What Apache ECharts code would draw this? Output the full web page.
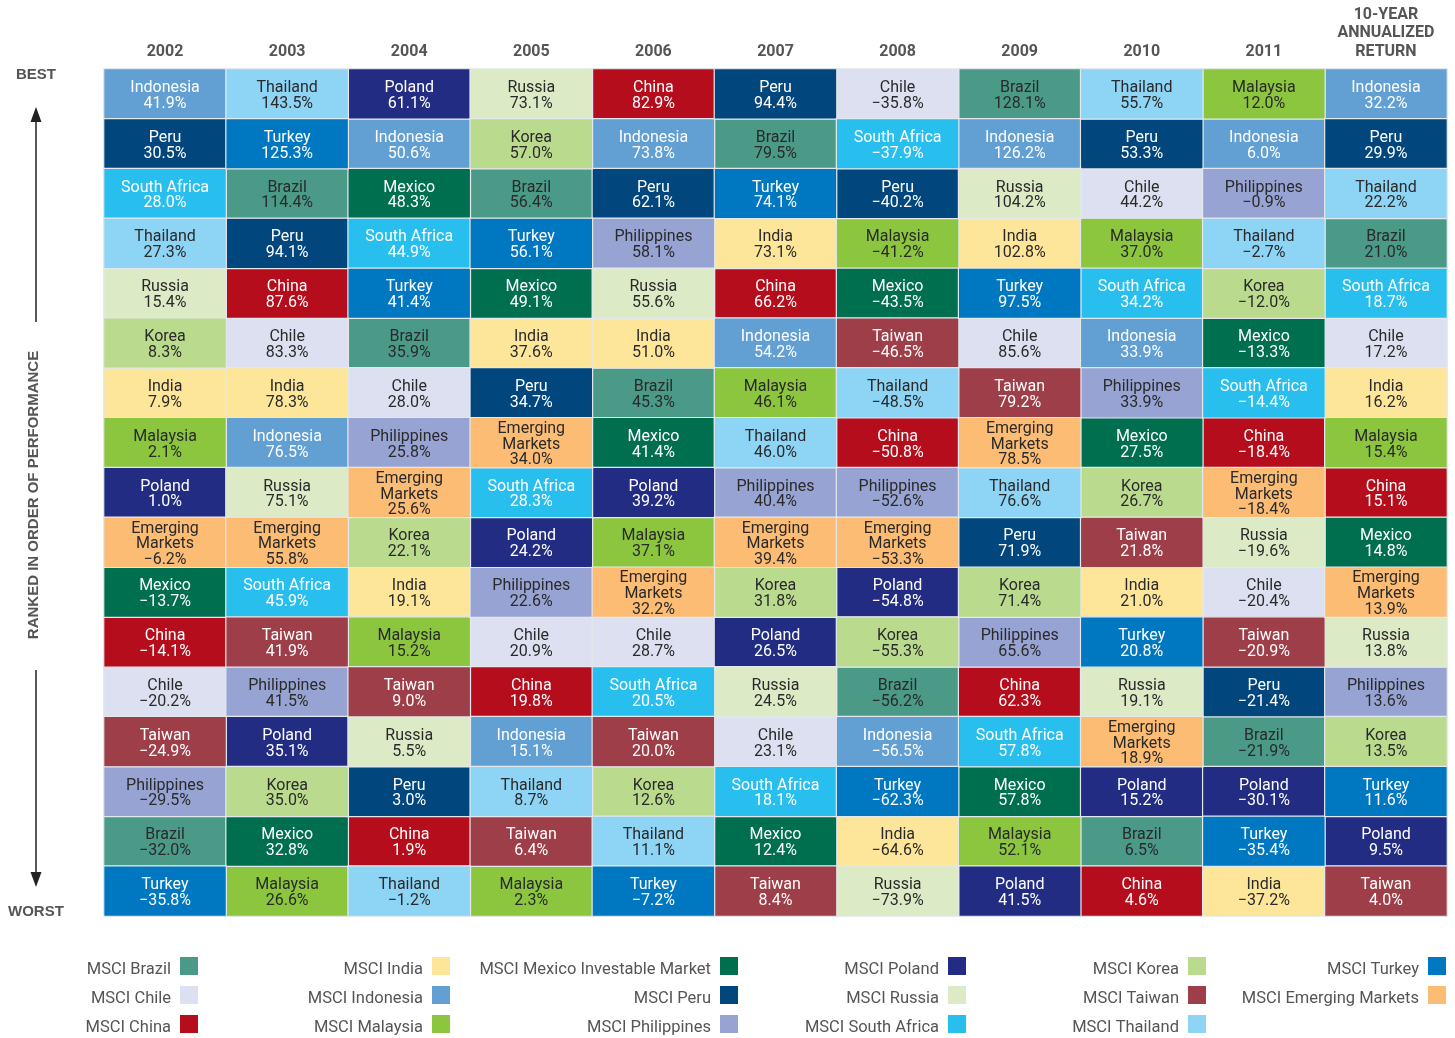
<!DOCTYPE html>
<html>
<head>
<meta charset="utf-8">
<script src="https://cdn.jsdelivr.net/npm/echarts@6/dist/echarts.min.js"></script>
<style>html,body{margin:0;padding:0;background:#fff}#c{width:1455px;height:1038px}</style>
</head>
<body>
<div id="c"></div>
<script>
// ---- DATA ----
const columns = ['2002','2003','2004','2005','2006','2007','2008','2009','2010','2011','10-YEAR\nANNUALIZED\nRETURN'];
const countries = ['Brazil','Chile','China','India','Indonesia','Malaysia','Mexico','Peru','Philippines','Poland','Russia','South Africa','Korea','Taiwan','Thailand','Turkey','Emerging Markets'];
const legendNames = ['MSCI Brazil','MSCI Chile','MSCI China','MSCI India','MSCI Indonesia','MSCI Malaysia','MSCI Mexico Investable Market','MSCI Peru','MSCI Philippines','MSCI Poland','MSCI Russia','MSCI South Africa','MSCI Korea','MSCI Taiwan','MSCI Thailand','MSCI Turkey','MSCI Emerging Markets'];

const n2002 = ['Indonesia','Peru','South Africa','Thailand','Russia','Korea','India','Malaysia','Poland','Emerging Markets','Mexico','China','Chile','Taiwan','Philippines','Brazil','Turkey'];
const v2002 = [41.9,30.5,28.0,27.3,15.4,8.3,7.9,2.1,1.0,-6.2,-13.7,-14.1,-20.2,-24.9,-29.5,-32.0,-35.8];
const n2003 = ['Thailand','Turkey','Brazil','Peru','China','Chile','India','Indonesia','Russia','Emerging Markets','South Africa','Taiwan','Philippines','Poland','Korea','Mexico','Malaysia'];
const v2003 = [143.5,125.3,114.4,94.1,87.6,83.3,78.3,76.5,75.1,55.8,45.9,41.9,41.5,35.1,35.0,32.8,26.6];
const n2004 = ['Poland','Indonesia','Mexico','South Africa','Turkey','Brazil','Chile','Philippines','Emerging Markets','Korea','India','Malaysia','Taiwan','Russia','Peru','China','Thailand'];
const v2004 = [61.1,50.6,48.3,44.9,41.4,35.9,28.0,25.8,25.6,22.1,19.1,15.2,9.0,5.5,3.0,1.9,-1.2];
const n2005 = ['Russia','Korea','Brazil','Turkey','Mexico','India','Peru','Emerging Markets','South Africa','Poland','Philippines','Chile','China','Indonesia','Thailand','Taiwan','Malaysia'];
const v2005 = [73.1,57.0,56.4,56.1,49.1,37.6,34.7,34.0,28.3,24.2,22.6,20.9,19.8,15.1,8.7,6.4,2.3];
const n2006 = ['China','Indonesia','Peru','Philippines','Russia','India','Brazil','Mexico','Poland','Malaysia','Emerging Markets','Chile','South Africa','Taiwan','Korea','Thailand','Turkey'];
const v2006 = [82.9,73.8,62.1,58.1,55.6,51.0,45.3,41.4,39.2,37.1,32.2,28.7,20.5,20.0,12.6,11.1,-7.2];
const n2007 = ['Peru','Brazil','Turkey','India','China','Indonesia','Malaysia','Thailand','Philippines','Emerging Markets','Korea','Poland','Russia','Chile','South Africa','Mexico','Taiwan'];
const v2007 = [94.4,79.5,74.1,73.1,66.2,54.2,46.1,46.0,40.4,39.4,31.8,26.5,24.5,23.1,18.1,12.4,8.4];
const n2008 = ['Chile','South Africa','Peru','Malaysia','Mexico','Taiwan','Thailand','China','Philippines','Emerging Markets','Poland','Korea','Brazil','Indonesia','Turkey','India','Russia'];
const v2008 = [-35.8,-37.9,-40.2,-41.2,-43.5,-46.5,-48.5,-50.8,-52.6,-53.3,-54.8,-55.3,-56.2,-56.5,-62.3,-64.6,-73.9];
const n2009 = ['Brazil','Indonesia','Russia','India','Turkey','Chile','Taiwan','Emerging Markets','Thailand','Peru','Korea','Philippines','China','South Africa','Mexico','Malaysia','Poland'];
const v2009 = [128.1,126.2,104.2,102.8,97.5,85.6,79.2,78.5,76.6,71.9,71.4,65.6,62.3,57.8,57.8,52.1,41.5];
const n2010 = ['Thailand','Peru','Chile','Malaysia','South Africa','Indonesia','Philippines','Mexico','Korea','Taiwan','India','Turkey','Russia','Emerging Markets','Poland','Brazil','China'];
const v2010 = [55.7,53.3,44.2,37.0,34.2,33.9,33.9,27.5,26.7,21.8,21.0,20.8,19.1,18.9,15.2,6.5,4.6];
const n2011 = ['Malaysia','Indonesia','Philippines','Thailand','Korea','Mexico','South Africa','China','Emerging Markets','Russia','Chile','Taiwan','Peru','Brazil','Poland','Turkey','India'];
const v2011 = [12.0,6.0,-0.9,-2.7,-12.0,-13.3,-14.4,-18.4,-18.4,-19.6,-20.4,-20.9,-21.4,-21.9,-30.1,-35.4,-37.2];
const n10yr = ['Indonesia','Peru','Thailand','Brazil','South Africa','Chile','India','Malaysia','China','Mexico','Emerging Markets','Russia','Philippines','Korea','Turkey','Poland','Taiwan'];
const v10yr = [32.2,29.9,22.2,21.0,18.7,17.2,16.2,15.4,15.1,14.8,13.9,13.8,13.6,13.5,11.6,9.5,4.0];

const columnNames = [n2002,n2003,n2004,n2005,n2006,n2007,n2008,n2009,n2010,n2011,n10yr];
const columnValues = [v2002,v2003,v2004,v2005,v2006,v2007,v2008,v2009,v2010,v2011,v10yr];
const ranks = ['1','2','3','4','5','6','7','8','9','10','11','12','13','14','15','16','17'];

// ---- STYLE ----
const palette = {
  'Brazil':'#4a9a87','Chile':'#dde0f0','China':'#b50d1c','India':'#fde69a','Indonesia':'#629fd3',
  'Malaysia':'#8cc63f','Mexico':'#006f4f','Peru':'#01467d','Philippines':'#97a4d3','Poland':'#222c83',
  'Russia':'#dcebc5','South Africa':'#28bfee','Korea':'#badb8d','Taiwan':'#9e3e48','Thailand':'#8dd4f5',
  'Turkey':'#0077c1','Emerging Markets':'#fdbc73'
};
const lightCells = ['Brazil','Chile','India','Malaysia','Philippines','Russia','Korea','Thailand','Emerging Markets'];
const FONT = 'Roboto, "Noto Sans", sans-serif';

function fmt(v){
  const s = Math.abs(v).toFixed(1) + '%';
  return v < 0 ? '\u2212' + s : s;
}

const series = countries.map(function(c, i){
  const data = [];
  columnNames.forEach(function(names, col){
    const r = names.indexOf(c);
    if (r >= 0) data.push({ name: c, value: [col, r, columnValues[col][r]] });
  });
  return {
    type: 'heatmap',
    name: legendNames[i],
    data: data,
    itemStyle: { color: palette[c], borderColor: '#e3e8ec', borderWidth: 1.2 },
    label: {
      show: true,
      color: lightCells.indexOf(c) >= 0 ? '#2a2a2a' : '#ffffff',
      fontSize: 16, lineHeight: 15.8, fontFamily: FONT,
      offset: [0, 2],
      formatter: function(p){
        const nm = p.name === 'Emerging Markets' ? 'Emerging\nMarkets' : p.name;
        return nm + '\n' + fmt(p.value[2]);
      }
    },
    emphasis: { disabled: true }
  };
});

// legend layout
const legendGroups = [[0,1,2],[3,4,5],[6,7,8],[9,10,11],[12,13,14],[15,16]];
const legendIconRight = [198,450,738,966,1206,1446];
const legendRowTop = [957,986,1015];
const legends = [];
legendGroups.forEach(function(g, gi){
  g.forEach(function(idx, ri){
    legends.push({
      data: [legendNames[idx]],
      right: 1455 - legendIconRight[gi],
      top: legendRowTop[ri],
      align: 'right',
      orient: 'horizontal',
      icon: 'rect',
      itemWidth: 18, itemHeight: 18,
      padding: 0,
      selectedMode: false,
      itemStyle: { borderWidth: 0 },
      formatter: function(name){ return '{t|' + name + '}'; },
      textStyle: {
        fontSize: 16.5, color: '#555555', fontFamily: FONT,
        rich: { t: { fontSize: 16.5, color: '#555555', fontFamily: FONT, padding: [7, 4, 0, 0] } }
      }
    });
  });
});

const chart = echarts.init(document.getElementById('c'));
chart.setOption({
  animation: false,
  backgroundColor: '#ffffff',
  grid: { left: 104, right: 8, top: 69, bottom: 122 },
  xAxis: {
    type: 'category', position: 'top', data: columns,
    axisLine: { show: false }, axisTick: { show: false }, splitLine: { show: false },
    axisLabel: { color: '#555555', fontWeight: 'bold', fontSize: 16, lineHeight: 18.5, margin: 8, fontFamily: FONT, interval: 0 }
  },
  yAxis: {
    type: 'category', data: ranks, inverse: true, show: false
  },
  legend: legends,
  series: series,
  graphic: [
    { type: 'text', left: 16, top: 67, style: { text: 'BEST', font: 'bold 15px "Liberation Sans", Arial, sans-serif', fill: '#555555' } },
    { type: 'text', left: 8, top: 904, style: { text: 'WORST', font: 'bold 15px "Liberation Sans", Arial, sans-serif', fill: '#555555' } },
    { type: 'line', shape: { x1: 36, y1: 322, x2: 36, y2: 118 }, style: { stroke: '#222', lineWidth: 1.5 } },
    { type: 'polygon', shape: { points: [[36,107],[30.5,122],[41.5,122]] }, style: { fill: '#222' } },
    { type: 'line', shape: { x1: 36, y1: 670, x2: 36, y2: 876 }, style: { stroke: '#222', lineWidth: 1.5 } },
    { type: 'polygon', shape: { points: [[36,887],[30.5,872],[41.5,872]] }, style: { fill: '#222' } },
    { type: 'text', x: 34, y: 495, rotation: Math.PI/2,
      style: { text: 'RANKED IN ORDER OF PERFORMANCE', font: 'bold 15px "Liberation Sans", Arial, sans-serif', fill: '#555555', align: 'center', verticalAlign: 'middle' } }
  ]
});
</script>
</body>
</html>
